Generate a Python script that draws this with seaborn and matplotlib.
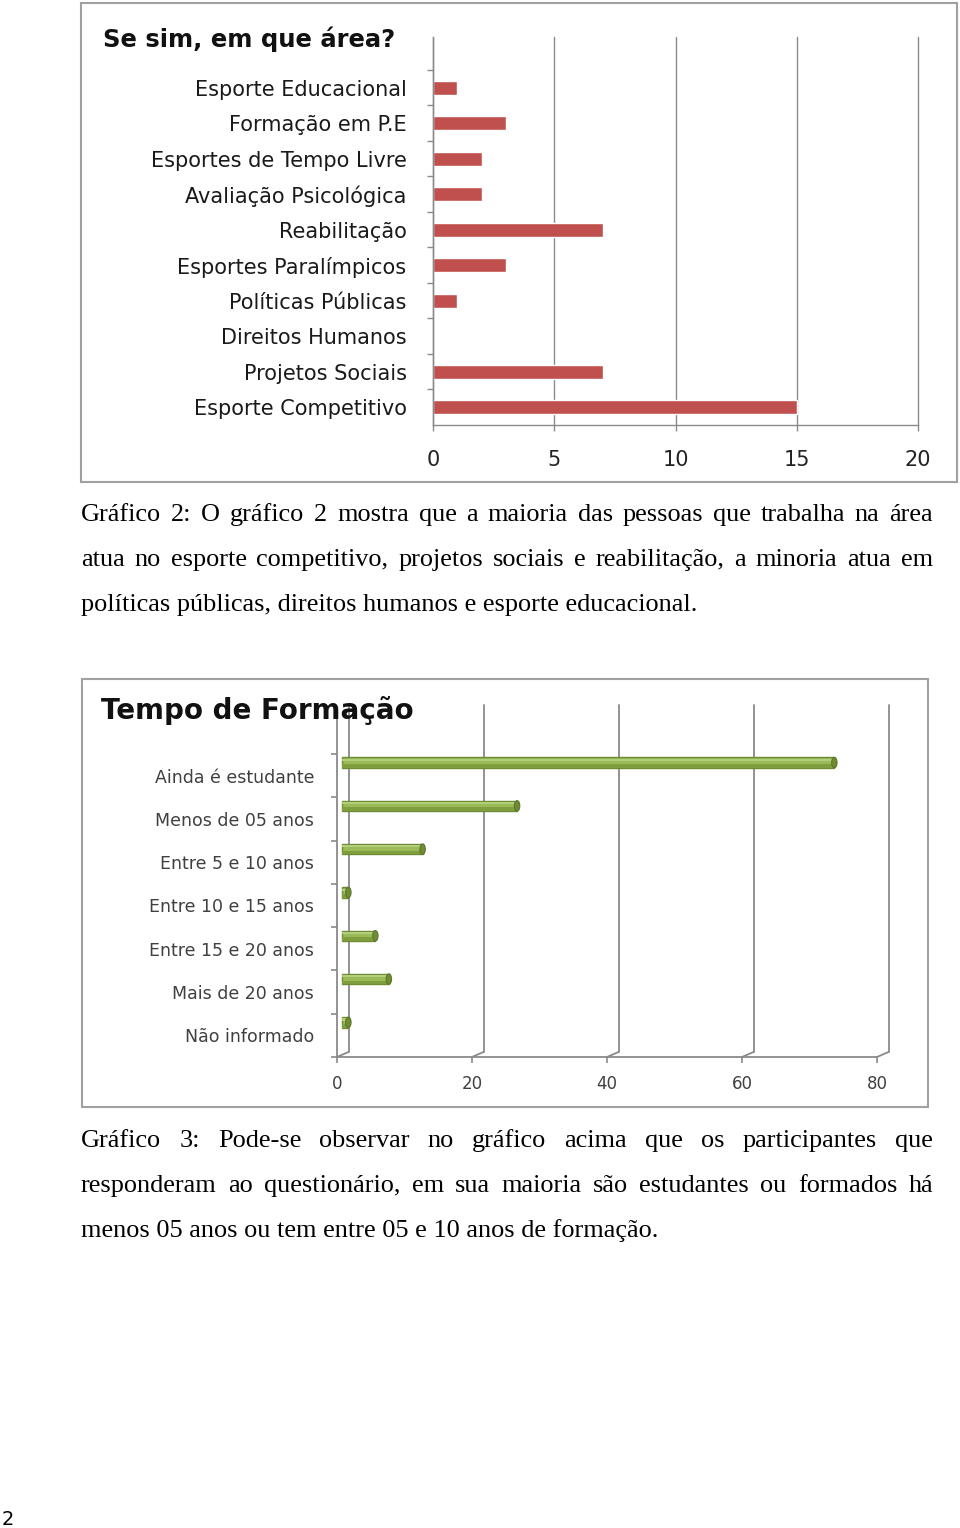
import matplotlib
matplotlib.use('Agg')
import matplotlib.pyplot as plt
import seaborn as sns
import pandas as pd
import numpy as np
from matplotlib.patches import Rectangle, Ellipse

# ---------------- data ----------------
areas = ["Esporte Educacional", "Formação em P.E", "Esportes de Tempo Livre",
         "Avaliação Psicológica", "Reabilitação", "Esportes Paralímpicos",
         "Políticas Públicas", "Direitos Humanos", "Projetos Sociais",
         "Esporte Competitivo"]
area_counts = [1, 3, 2, 2, 7, 3, 1, 0, 7, 15]
area_ticks = [0, 5, 10, 15, 20]

tempo_cats = ["Ainda é estudante", "Menos de 05 anos", "Entre 5 e 10 anos",
              "Entre 10 e 15 anos", "Entre 15 e 20 anos", "Mais de 20 anos",
              "Não informado"]
tempo_counts = [73, 26, 12, 1, 5, 7, 1]
tempo_ticks = [0, 20, 40, 60, 80]

title1 = "Se sim, em que área?"
title2 = "Tempo de Formação"
para1 = ["Gráfico 2: O gráfico 2 mostra que a maioria das pessoas que trabalha na área",
         "atua no esporte competitivo, projetos sociais e reabilitação, a minoria atua em",
         "políticas públicas, direitos humanos e esporte educacional."]
para2 = ["Gráfico 3: Pode-se observar no gráfico acima que os participantes que",
         "responderam ao questionário, em sua maioria são estudantes ou formados há",
         "menos 05 anos ou tem entre 05 e 10 anos de formação."]
page_number = "2"

# ---------------- setup ----------------
sns.set_style('white')
plt.rcParams['font.family'] = ['DejaVu Sans']
W, H = 960, 1528
fig = plt.figure(figsize=(W / 100, H / 100), dpi=100)
fig.patch.set_facecolor('white')


def fx(x):
    return x / W


def fy(y):
    return 1 - y / H


GRAY = '#8a8a8a'

# ---------------- chart 1 ----------------
fig.add_artist(Rectangle((fx(81), fy(482)), (957 - 81) / W, (482 - 3) / H,
                         transform=fig.transFigure, fill=False,
                         edgecolor='#a0a0a0', lw=1.5))
ax1 = fig.add_axes([fx(433), fy(425), (918 - 433) / W, (425 - 37) / H])
df1 = pd.DataFrame({'area': areas, 'n': area_counts})
sns.barplot(data=df1, x='n', y='area', orient='h', color='#C0504D',
            saturation=1, width=0.4, ax=ax1)
ax1.set_xlim(0, 20)
ax1.set_ylim(len(areas) - 0.5, len(areas) - 0.5 - 388 / 35.5)
ax1.set_xlabel('')
ax1.set_ylabel('')
ax1.set_xticks(area_ticks)
ax1.xaxis.grid(True, color=GRAY, lw=1)
ax1.yaxis.grid(False)
ax1.set_axisbelow(True)
for gl in ax1.get_xgridlines():
    gl.set_clip_on(False)
for s in ['top', 'right']:
    ax1.spines[s].set_visible(False)
for s in ['left', 'bottom']:
    ax1.spines[s].set_color(GRAY)
    ax1.spines[s].set_linewidth(1)
ax1.tick_params(axis='x', length=4, width=1, color=GRAY, direction='out',
                pad=14, labelsize=15, labelcolor='#222222', bottom=True)
ax1.tick_params(axis='y', which='major', length=0, pad=19, labelsize=15,
                labelcolor='#1a1a1a')
ax1.set_yticks(np.arange(-0.5, len(areas) - 0.5, 1), minor=True)
ax1.tick_params(axis='y', which='minor', length=4.5, width=1, color=GRAY,
                direction='out', left=True)
fig.text(fx(103), fy(47), title1, fontsize=17.5, fontweight='bold',
         va='baseline', ha='left', color='#111111')

# ---------------- chart 2 ----------------
fig.add_artist(Rectangle((fx(82), fy(1107)), (928 - 82) / W, (1107 - 679) / H,
                         transform=fig.transFigure, fill=False,
                         edgecolor='#a0a0a0', lw=1.5))
pxu = 6.75   # pixels per unit
band = 43.3  # pixels per category
ax2 = fig.add_axes([fx(337), fy(1057), (892 - 337) / W, (1057 - 705) / H])
df2 = pd.DataFrame({'cat': tempo_cats, 'n': tempo_counts})
sns.barplot(data=df2, x='n', y='cat', orient='h', color='#9BBB59',
            saturation=1, width=0.24, edgecolor='#6f8c34', linewidth=1,
            ax=ax2, zorder=3)
nb = len(tempo_cats)
ybot = nb - 0.5
ytop = ybot - 352 / band
ax2.set_xlim(0, (892 - 337) / pxu)
ax2.set_ylim(ybot, ytop)
ax2.set_xlabel('')
ax2.set_ylabel('')
ax2.grid(False)
dx = 11.5 / pxu
dy = 5 / band
# back wall / gridlines with perspective
for g in tempo_ticks:
    ax2.plot([g + dx, g + dx], [ytop, ybot - dy], color=GRAY, lw=1.3,
             clip_on=False, zorder=1)
    ax2.plot([g, g + dx], [ybot, ybot - dy], color=GRAY, lw=1.3,
             clip_on=False, zorder=1)
# shift bars onto the depth plane and add caps
bars = list(ax2.patches)
for p in bars:
    p.set_x(dx * 0.4)
    p.set_y(p.get_y() - 0.3)
    h = p.get_height()
    xe = p.get_x() + p.get_width()
    yc = p.get_y() + h / 2
    ax2.add_patch(Rectangle((p.get_x(), p.get_y() + h * 0.65), p.get_width(),
                            h * 0.35, facecolor='#7f9e3e', edgecolor='none',
                            zorder=3.5))
    ax2.add_patch(Rectangle((p.get_x(), p.get_y() + h * 0.12), p.get_width(),
                            h * 0.22, facecolor='#b3cf7d', edgecolor='none',
                            zorder=3.5))
    ax2.add_patch(Ellipse((xe, yc), 0.8, h, facecolor='#6f8c34',
                          edgecolor='#5c7629', lw=0.8, zorder=4))
for s in ['top', 'right']:
    ax2.spines[s].set_visible(False)
for s in ['left', 'bottom']:
    ax2.spines[s].set_color(GRAY)
    ax2.spines[s].set_linewidth(1.3)
ax2.spines['bottom'].set_bounds(0, tempo_ticks[-1])
ax2.spines['left'].set_bounds(ybot, ybot - (1057 - 713) / band)
ax2.set_xticks(tempo_ticks)
ax2.tick_params(axis='x', length=4, width=1.2, color=GRAY, direction='out',
                pad=9, labelsize=12, labelcolor='#404040', bottom=True)
ax2.tick_params(axis='y', which='major', length=0, pad=16.5, labelsize=12.5,
                labelcolor='#404040')
ax2.set_yticks(np.arange(-0.5, nb, 1), minor=True)
ax2.tick_params(axis='y', which='minor', length=4, width=1.2, color=GRAY,
                direction='out', left=True)
fig.text(fx(101), fy(719), title2, fontsize=20, fontweight='bold',
         va='baseline', ha='left', color='#111111', zorder=0)

# ---------------- paragraphs ----------------
SERIF = ['Liberation Serif', 'DejaVu Serif']
renderer = fig.canvas.get_renderer()


def text_width(s, size):
    t = fig.text(0, 0, s, fontsize=size, family=SERIF)
    w = t.get_window_extent(renderer).width
    t.remove()
    return w


base = 18
s1 = base * 615 / text_width(para1[-1], base)
s2 = base * 575 / text_width(para2[-1], base)
fsize = (s1 + s2) / 2


def draw_para(lines, x0, x1, baselines, size):
    for i, (line, yb) in enumerate(zip(lines, baselines)):
        if i == len(lines) - 1:
            fig.text(fx(x0), fy(yb), line, fontsize=size, family=SERIF,
                     va='baseline', ha='left', color='black')
            continue
        words = line.split(' ')
        ts = [fig.text(0, 0, w, fontsize=size, family=SERIF, va='baseline',
                       ha='left', color='black') for w in words]
        widths = [t.get_window_extent(renderer).width for t in ts]
        gap = (x1 - x0 - sum(widths)) / (len(words) - 1)
        x = x0
        for t, w in zip(ts, widths):
            t.set_position((fx(x), fy(yb)))
            x += w + gap


draw_para(para1, 81, 933, [521, 566, 611], fsize)
draw_para(para2, 81, 933, [1147, 1192, 1237], fsize)

fig.text(fx(2), fy(1525), page_number, fontsize=14, va='baseline', ha='left',
         color='black')

fig.savefig('out.png', dpi=100, facecolor='white')
